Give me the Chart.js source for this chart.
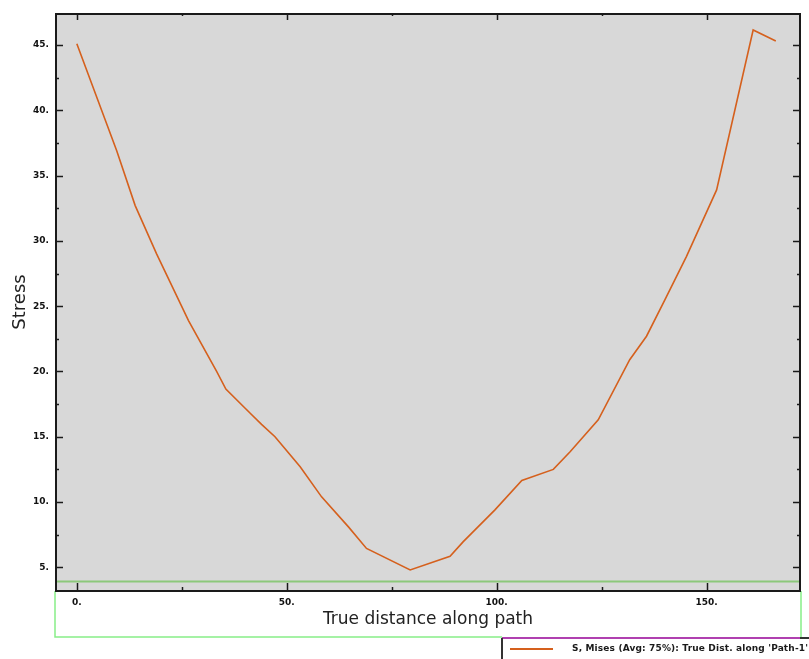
<!DOCTYPE html>
<html>
<head>
<meta charset="utf-8">
<title>Stress along path</title>
<script src="https://cdn.jsdelivr.net/npm/chart.js@4"></script>
<style>
  html, body { margin: 0; padding: 0; background: #ffffff; }
  #wrap { position: absolute; left: 0; top: 0; width: 809px; height: 659px; }
</style>
</head>
<body>
<div id="wrap"><canvas id="stressChart"></canvas></div>
<script>
// Path results: true distance along the path and von Mises stress at each node
const distance = [0, 9.5, 13.9, 19.0, 26.6, 33.3, 35.5, 41.3, 44.0, 47.2, 53.2, 58.3, 64.7, 69.0, 79.4, 88.9, 92.0, 99.6, 106.0, 113.5, 117.5, 124.2, 131.7, 135.7, 140.1, 145.2, 152.4, 161.1, 166.5];
const mises = [45.1, 36.9, 32.7, 29.0, 23.9, 20.0, 18.65, 16.8, 15.95, 15.0, 12.7, 10.4, 8.1, 6.45, 4.8, 5.85, 6.95, 9.4, 11.65, 12.5, 13.85, 16.3, 20.9, 22.7, 25.5, 28.8, 33.9, 46.15, 45.3];

const seriesLabel = "S, Mises (Avg: 75%): True Dist. along 'Path-1'";
const xTitle = "True distance along path";
const yTitle = "Stress";

// axis limits and the grid of tick marks
const xMin = -5.2, xMax = 172.5, xStep = 25, xLabelEvery = 50;
const yMin = 3.19, yMax = 47.45, yStep = 2.5, yLabelEvery = 5;
const highlightLevel = 3.93; // green selection edge inside the plot

const points = distance.map((d, i) => ({ x: d, y: mises[i] }));

const tickFont = { family: "DejaVu Sans", size: 9, weight: "bold" };

// frame, inward tick marks, selection boxes and the legend box
const framePlugin = {
  id: "frame",
  beforeDraw(chart) {
    const { ctx, chartArea: a } = chart;
    ctx.save();
    ctx.fillStyle = "#d8d8d8";
    ctx.fillRect(a.left, a.top, a.right - a.left, a.bottom - a.top);
    ctx.restore();
  },
  afterDraw(chart) {
    const { ctx, chartArea: a } = chart;
    const xs = chart.scales.x, ys = chart.scales.y;
    ctx.save();

    // green selection line across the plot and the box under it
    const gy = Math.round(ys.getPixelForValue(highlightLevel)) + 0.5;
    ctx.strokeStyle = "#8cc87a";
    ctx.lineWidth = 2;
    ctx.beginPath();
    ctx.moveTo(a.left, gy);
    ctx.lineTo(a.right, gy);
    ctx.stroke();

    ctx.strokeStyle = "#88ee88";
    ctx.lineWidth = 1.5;
    ctx.beginPath();
    ctx.moveTo(a.left, a.bottom);
    ctx.lineTo(a.left, 637);
    ctx.lineTo(502, 637);
    ctx.moveTo(a.right, a.bottom);
    ctx.lineTo(a.right, 637);
    ctx.stroke();

    // magenta stub at the lower left corner
    ctx.strokeStyle = "#c040c0";
    ctx.lineWidth = 2;
    ctx.beginPath();
    ctx.moveTo(a.left + 1, gy);
    ctx.lineTo(a.left + 1, a.bottom);
    ctx.stroke();

    // plot frame
    ctx.strokeStyle = "#1a1a1a";
    ctx.lineWidth = 2;
    ctx.strokeRect(a.left + 1, a.top + 1, a.right - a.left - 2, a.bottom - a.top - 1);

    // inward tick marks on all four sides
    ctx.lineWidth = 1.5;
    ctx.beginPath();
    xs.ticks.forEach((t) => {
      const px = Math.round(xs.getPixelForValue(t.value)) + 0.5;
      const major = Math.abs(t.value % xLabelEvery) < 1e-6;
      const lenB = major ? 8 : 4;
      const lenT = major ? 7 : 3;
      ctx.moveTo(px, a.bottom);
      ctx.lineTo(px, a.bottom - lenB);
      ctx.moveTo(px, a.top);
      ctx.lineTo(px, a.top + lenT);
    });
    ys.ticks.forEach((t) => {
      const py = Math.round(ys.getPixelForValue(t.value)) + 0.5;
      const major = Math.abs(t.value % yLabelEvery) < 1e-6;
      const len = major ? 8 : 4;
      ctx.moveTo(a.left, py);
      ctx.lineTo(a.left + len, py);
      ctx.moveTo(a.right, py);
      ctx.lineTo(a.right - len, py);
    });
    ctx.stroke();

    // legend box
    const ds = chart.data.datasets[0];
    const lx = 502, ly = 638;
    ctx.strokeStyle = "#b040b0";
    ctx.lineWidth = 2;
    ctx.beginPath();
    ctx.moveTo(lx, ly);
    ctx.lineTo(800, ly);
    ctx.stroke();
    ctx.strokeStyle = "#333333";
    ctx.beginPath();
    ctx.moveTo(800, ly);
    ctx.lineTo(809, ly);
    ctx.moveTo(lx, ly);
    ctx.lineTo(lx, 659);
    ctx.stroke();

    ctx.strokeStyle = ds.borderColor;
    ctx.lineWidth = 2;
    ctx.beginPath();
    ctx.moveTo(510, 649);
    ctx.lineTo(553, 649);
    ctx.stroke();

    ctx.fillStyle = "#1a1a1a";
    ctx.font = "bold 9px 'DejaVu Sans'";
    ctx.letterSpacing = "0.15px";
    ctx.textBaseline = "middle";
    ctx.textAlign = "left";
    ctx.fillText(ds.label, 572, 649);

    ctx.restore();
  },
};

const ctx = document.getElementById("stressChart").getContext("2d");
const stressChart = new Chart(ctx, {
  type: "line",
  data: {
    datasets: [
      {
        label: seriesLabel,
        data: points,
        borderColor: "#d5601d",
        borderWidth: 1.6,
        pointRadius: 0,
        tension: 0,
        fill: false,
      },
    ],
  },
  options: {
    responsive: true,
    maintainAspectRatio: false,
    animation: false,
    layout: { padding: { top: 13, right: 8, left: 0, bottom: 0 } },
    plugins: {
      legend: { display: false },
      tooltip: { enabled: false },
    },
    scales: {
      x: {
        type: "linear",
        position: "bottom",
        min: xMin,
        max: xMax,
        grid: { display: false, drawTicks: false },
        border: { display: false },
        ticks: {
          stepSize: xStep,
          includeBounds: false,
          autoSkip: false,
          maxRotation: 0,
          padding: 6,
          color: "#111111",
          font: tickFont,
          callback: (v) => (Math.abs(v % xLabelEvery) < 1e-6 ? v + "." : ""),
        },
        title: {
          display: true,
          text: xTitle,
          color: "#222222",
          font: { family: "DejaVu Sans", size: 17 },
          padding: { top: 0, bottom: 29.5 },
        },
        afterFit: (scale) => {
          scale.height = 68;
        },
      },
      y: {
        type: "linear",
        position: "left",
        min: yMin,
        max: yMax,
        grid: { display: false, drawTicks: false },
        border: { display: false },
        ticks: {
          stepSize: yStep,
          includeBounds: false,
          autoSkip: false,
          padding: 6,
          color: "#111111",
          font: tickFont,
          callback: (v) => (Math.abs(v % yLabelEvery) < 1e-6 ? v + "." : ""),
        },
        title: {
          display: true,
          text: yTitle,
          color: "#222222",
          font: { family: "DejaVu Sans", size: 18 },
          padding: { top: 10, bottom: 0 },
        },
        afterFit: (scale) => {
          scale.width = 55;
        },
      },
    },
  },
  plugins: [framePlugin],
});
</script>
</body>
</html>
